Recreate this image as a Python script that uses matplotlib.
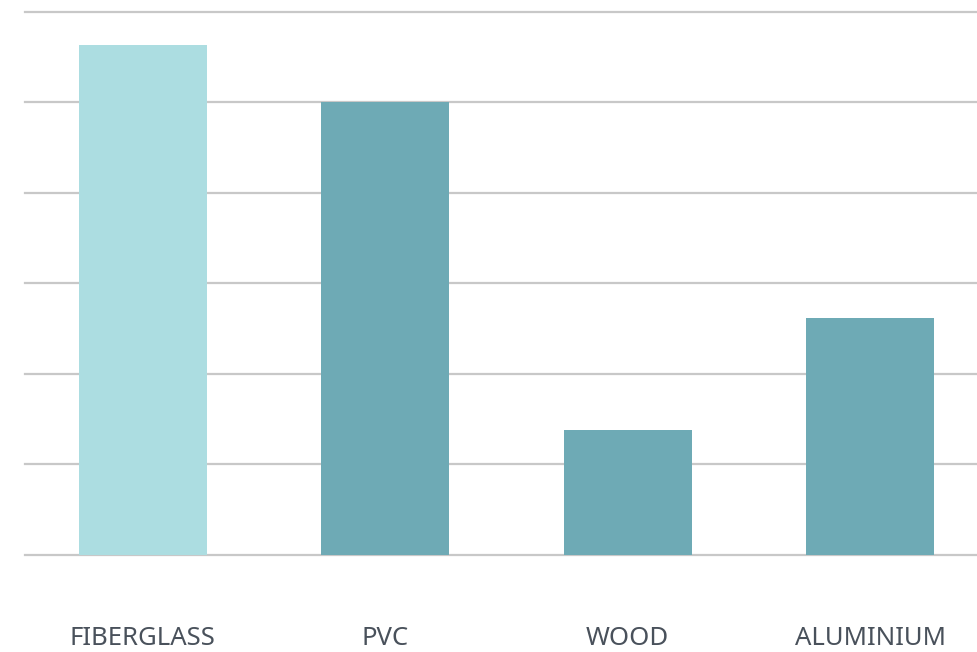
import matplotlib
matplotlib.use("Agg")
import matplotlib.pyplot as plt

categories = ["FIBERGLASS", "PVC", "WOOD", "ALUMINIUM"]
values = [5.63, 5.0, 1.38, 2.62]
colors = ["#acdde1", "#6eaab5", "#6eaab5", "#6eaab5"]
y_ticks = [0, 1, 2, 3, 4, 5, 6]

fig = plt.figure(figsize=(9.77, 6.52), dpi=100)
ax = fig.add_axes([25/977, (652-555)/652, 1 - 25/977, (555-11.5)/652])

x = list(range(len(categories)))
ax.bar(x, values, width=0.528, color=colors, zorder=3)
ax.set_xlim(-0.486, 3.441)
ax.set_ylim(0, 6)
ax.set_yticks(y_ticks)
ax.yaxis.grid(True, color="#c8c8c8", linewidth=1.6, zorder=0)
ax.set_yticklabels([])
ax.tick_params(axis="y", length=0)
ax.set_xticks(x)
ax.set_xticklabels(categories, fontsize=18.5, color="#49515b", family="Noto Sans")
ax.tick_params(axis="x", length=0, pad=51)
for s in ax.spines.values():
    s.set_visible(False)
for line in ax.get_ygridlines():
    line.set_clip_on(False)

fig.savefig("out.png", dpi=100)
